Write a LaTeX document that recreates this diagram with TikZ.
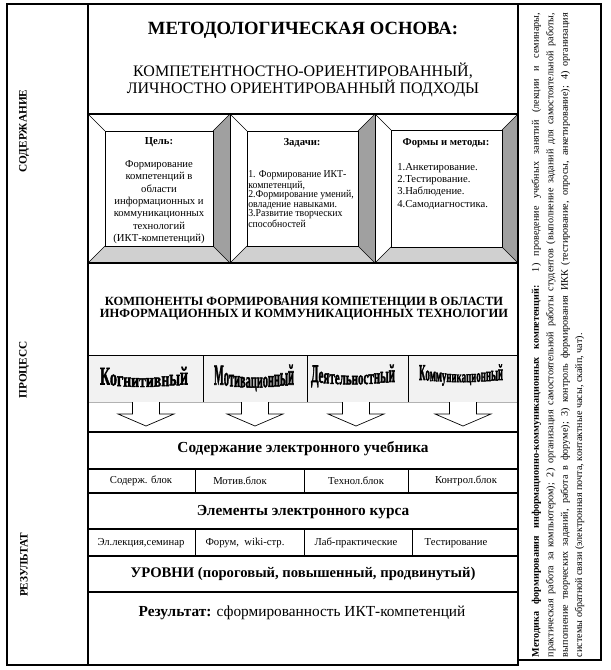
\documentclass[tikz,border=0pt]{standalone}
\usepackage{fontspec}
\setmainfont{Liberation Serif}
\newfontfamily\condfont[FakeStretch=0.93]{Liberation Serif}
\newfontfamily\wafont[FakeBold=2.4]{Liberation Serif}
\usepackage{graphicx}
\definecolor{bevdark}{HTML}{A0A0A0}
\definecolor{bevlight}{HTML}{D0D0D0}
\definecolor{cellgray}{HTML}{F2F2F2}

% arched WordArt-like word: #1 = number of letters, #2 = letters, #3 = width, #4 = total height
\newcommand\archword[4]{%
  \resizebox*{#3}{#4}{\wafont\bfseries
  \foreach \ch [count=\i] in {#2}{%
    \pgfmathsetmacro\archt{2*(\i-1)/(#1-1)-1}%
    \pgfmathsetmacro\archh{0.74+0.26*\archt*\archt}%
    \pgfmathsetmacro\archd{-1.0*(1-\archt*\archt)}%
    \raisebox{\archd pt}{\scalebox{1}[\archh]{\ch}}%
  }}%
}

\newcommand\bevelbox[5]{%
  \fill[white] (#1,#2) rectangle (#3,#4);
  \fill[bevdark] (#3,#2) -- ({#3-#5},{#2+#5}) -- ({#3-#5},{#4-#5}) -- (#3,#4) -- cycle;
  \fill[bevlight] (#1,#4) -- ({#1+#5},{#4-#5}) -- ({#3-#5},{#4-#5}) -- (#3,#4) -- cycle;
  \draw[bevline] (#1,#2) rectangle (#3,#4);
  \draw[bevline] ({#1+#5},{#2+#5}) rectangle ({#3-#5},{#4-#5});
  \draw[bevline] (#1,#2) -- ({#1+#5},{#2+#5});
  \draw[bevline] (#3,#2) -- ({#3-#5},{#2+#5});
  \draw[bevline] (#1,#4) -- ({#1+#5},{#4-#5});
  \draw[bevline] (#3,#4) -- ({#3-#5},{#4-#5});
}

\tikzset{
  frame/.style={draw=black, line width=0.8pt},
  thinline/.style={draw=black, line width=0.55pt},
  bevline/.style={draw=black, line width=0.5pt},
  arrowline/.style={draw=black, line width=0.5pt, fill=white},
  txt/.style={inner sep=0pt},
  small/.style={txt, font=\fontsize{8}{9.2}\selectfont},
  rowhead/.style={txt, font=\fontsize{11.5}{13}\selectfont\bfseries},
  sidelabel/.style={txt, rotate=90, font=\fontsize{8.5}{10}\selectfont\bfseries},
}

\begin{document}
\begin{tikzpicture}[x=0.75pt,y=-0.75pt]
\useasboundingbox (0,0) rectangle (610,670);
\fill[white] (0,0) rectangle (610,670);

% ---------- left column ----------
\draw[frame] (7,4) rectangle (88,665);
\node[sidelabel] (lblcontent) at (24,131) {СОДЕРЖАНИЕ};
\node[sidelabel] (lblprocess) at (24,370) {ПРОЦЕСС};
\node[sidelabel] (lblresult) at (24,565) {РЕЗУЛЬТАТ};

% ---------- header ----------
\draw[frame] (88,4) rectangle (518,114);
\node[txt, font=\fontsize{14}{16}\selectfont\bfseries] (title) at (303,30) {МЕТОДОЛОГИЧЕСКАЯ ОСНОВА:};
\node[txt, align=center, font=\fontsize{12}{12}\selectfont] (approach) at (303,80)
  {КОМПЕТЕНТНОСТНО-ОРИЕНТИРОВАННЫЙ,\\ЛИЧНОСТНО ОРИЕНТИРОВАННЫЙ ПОДХОДЫ};

% ---------- bevel boxes ----------
\bevelbox{88}{114}{230}{263}{17}
\bevelbox{230}{114}{375}{263}{17}
\bevelbox{375}{114}{518}{263}{16}

\node[small, anchor=north, align=center] (goal) at (159,137.5)
  {\textbf{Цель:}\\[8pt]Формирование\\компетенций в\\области\\информационных и\\коммуникационных\\технологий\\(ИКТ-компетенций)};

\node[small, font=\fontsize{8}{9}\selectfont\bfseries] (taskstitle) at (302,143) {Задачи:};
\node[txt, anchor=north west, align=left, font=\condfont\fontsize{7.9}{7}\selectfont] (tasks) at (248,170.5)
  {1. Формирование ИКТ-\\компетенций,\\2.Формирование умений,\\овладение навыками.\\3.Развитие творческих\\способностей};

\node[small, font=\fontsize{8}{9}\selectfont\bfseries] (formstitle) at (446,143) {Формы и методы:};
\node[small, anchor=north west, align=left] (forms) at (397,163)
  {1.Анкетирование.\\2.Тестирование.\\3.Наблюдение.\\4.Самодиагностика.};

% ---------- components ----------
\draw[frame] (88,263) rectangle (518,356);
\node[txt, align=center, font=\fontsize{9.4}{8.9}\selectfont\bfseries] (comptitle) at (304,309)
  {КОМПОНЕНТЫ ФОРМИРОВАНИЯ КОМПЕТЕНЦИИ В ОБЛАСТИ\\ИНФОРМАЦИОННЫХ И КОММУНИКАЦИОННЫХ ТЕХНОЛОГИИ};

\fill[cellgray] (88,356) rectangle (518,402);
\draw[gray!60, line width=0.5pt] (88,402) -- (518,402);
\draw[thinline] (203,356) -- (203,402);
\draw[thinline] (307,356) -- (307,402);
\draw[thinline] (408,356) -- (408,402);
\draw[frame] (88,356) -- (88,432);
\draw[frame] (518,356) -- (518,432);

\node[txt] (cogn) at (144,377) {\archword{11}{К,о,г,н,и,т,и,в,н,ы,й}{66pt}{15pt}};
\node[txt] (motiv) at (254,378) {\archword{13}{М,о,т,и,в,а,ц,и,о,н,н,ы,й}{60pt}{20pt}};
\node[txt] (activ) at (353,376) {\archword{14}{Д,е,я,т,е,л,ь,н,о,с,т,н,ы,й}{63pt}{17pt}};
\node[txt] (commun) at (461,375) {\archword{16}{К,о,м,м,у,н,и,к,а,ц,и,о,н,н,ы,й}{63pt}{16pt}};

% ---------- arrows ----------
\foreach \c/\nm in {146/arA,255/arB,356/arC,463/arD}{
  \coordinate (\nm) at (\c,426);
  \draw[arrowline] ({\c-13.5},402) -- ({\c-13.5},414) -- ({\c-28},414) -- (\nm)
    -- ({\c+28},414) -- ({\c+13.5},414) -- ({\c+13.5},402);
}

% ---------- e-textbook ----------
\draw[frame] (88,432) rectangle (518,469);
\node[rowhead] (ebook) at (303,449) {Содержание электронного учебника};
\draw[frame] (88,469) rectangle (518,493);
\draw[thinline] (195,469) -- (195,493);
\draw[thinline] (304,469) -- (304,493);
\draw[thinline] (408,469) -- (408,493);
\node[small] (b1) at (141,481) {Содерж. блок};
\node[small] (b2) at (240,481) {Мотив.блок};
\node[small] (b3) at (356,481) {Технол.блок};
\node[small] (b4) at (466,481) {Контрол.блок};

% ---------- e-course ----------
\draw[frame] (88,493) rectangle (518,529);
\node[rowhead] (ecourse) at (303,512) {Элементы электронного курса};
\draw[frame] (88,529) rectangle (518,556);
\draw[thinline] (195,529) -- (195,556);
\draw[thinline] (304,529) -- (304,556);
\draw[thinline] (412,529) -- (412,556);
\node[small] (e1) at (141,543) {Эл.лекция,семинар};
\node[small] (e2) at (245,543) {Форум,\ \ wiki-стр.};
\node[small] (e3) at (356,543) {Лаб-практические};
\node[small] (e4) at (456,543) {Тестирование};

% ---------- levels & result ----------
\draw[frame] (88,556) rectangle (518,592);
\node[txt, font=\fontsize{11}{13}\selectfont\bfseries] (levels) at (303,574) {УРОВНИ (пороговый, повышенный, продвинутый)};
\draw[frame] (88,592) rectangle (518,665);
\node[txt, font=\fontsize{11.5}{13}\selectfont] (result) at (302,613) {\textbf{Результат:} сформированность ИКТ-компетенций};

% ---------- right column ----------
\draw[frame] (518,4) rectangle (601,660);
\node[txt, rotate=90, text width=483pt, align=justify, font=\fontsize{7.6}{10.8}\selectfont] (method) at (558,335)
  {\textbf{Методика формирования информационно-коммуникационных компетенций:} 1) проведение учебных занятий (лекции и семинары,\linebreak
   практическая работа за компьютером); 2) организация самостоятельной работы студентов (выполнение заданий для самостоятельной работы,\linebreak
   выполнение творческих заданий, работа в форуме); 3) контроль формирования ИКК (тестирование, опросы, анкетирование); 4) организация\linebreak
   системы обратной связи (электронная почта, контактные часы, скайп, чат).};
\end{tikzpicture}
\end{document}
